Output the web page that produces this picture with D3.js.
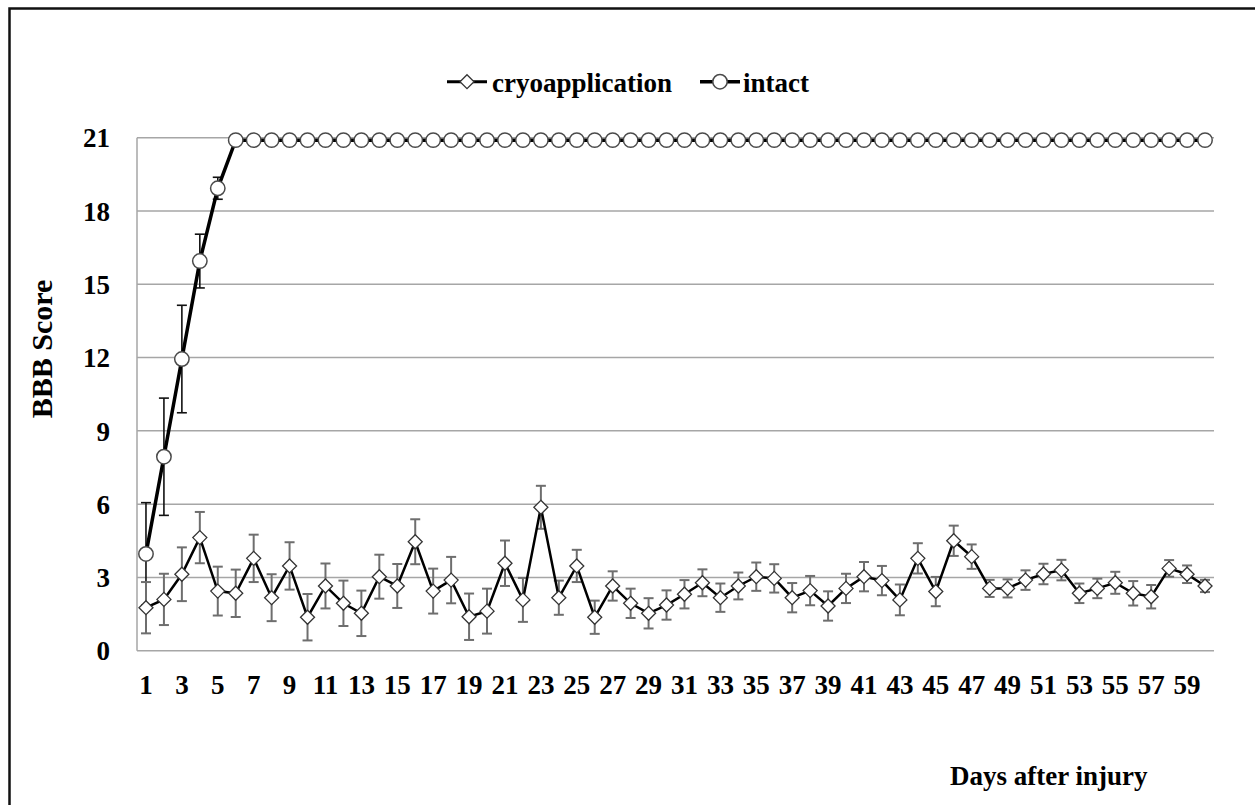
<!DOCTYPE html>
<html>
<head>
<meta charset="utf-8">
<script src="https://cdn.jsdelivr.net/npm/d3@7"></script>
<style>
  html, body { margin: 0; padding: 0; background: #fff; }
  svg { display: block; }
  text { font-family: "Liberation Serif", "Times New Roman", serif; font-weight: bold; fill: #000; }
</style>
</head>
<body>
<svg id="chart" width="1255" height="805"></svg>
<script>
// ---- data ----
const days = [1,2,3,4,5,6,7,8,9,10,11,12,13,14,15,16,17,18,19,20,21,22,23,24,25,26,27,28,29,30,
              31,32,33,34,35,36,37,38,39,40,41,42,43,44,45,46,47,48,49,50,51,52,53,54,55,56,57,58,59,60];
const xTickLabels = [1,3,5,7,9,11,13,15,17,19,21,23,25,27,29,31,33,35,37,39,41,43,45,47,49,51,53,55,57,59];
const yTickLabels = [0,3,6,9,12,15,18,21];

const cryoMean = [1.76,2.10,3.13,4.63,2.44,2.35,3.78,2.17,3.47,1.37,
                  2.65,1.94,1.53,3.03,2.65,4.46,2.44,2.89,1.39,1.62,
                  3.58,2.08,5.87,2.17,3.47,1.37,2.65,1.94,1.53,1.87,
                  2.31,2.78,2.17,2.65,3.03,2.96,2.17,2.46,1.83,2.55,
                  3.03,2.87,2.08,3.78,2.42,4.50,3.85,2.55,2.55,2.89,
                  3.14,3.30,2.35,2.55,2.78,2.35,2.21,3.37,3.13,2.65];
const cryoSD = [1.05,1.05,1.10,1.05,1.00,0.97,0.97,0.96,0.97,0.95,
                0.92,0.93,0.93,0.90,0.90,0.92,0.92,0.95,0.95,0.92,
                0.93,0.90,0.88,0.70,0.66,0.68,0.60,0.60,0.62,0.60,
                0.58,0.55,0.58,0.55,0.58,0.58,0.60,0.60,0.60,0.60,
                0.60,0.60,0.63,0.62,0.60,0.62,0.50,0.35,0.37,0.40,
                0.42,0.42,0.40,0.40,0.45,0.50,0.48,0.34,0.36,0.25];
const intactMean = [3.96,7.94,11.94,15.95,18.93,20.9,20.9,20.9,20.9,20.9,
                    20.9,20.9,20.9,20.9,20.9,20.9,20.9,20.9,20.9,20.9,
                    20.9,20.9,20.9,20.9,20.9,20.9,20.9,20.9,20.9,20.9,
                    20.9,20.9,20.9,20.9,20.9,20.9,20.9,20.9,20.9,20.9,
                    20.9,20.9,20.9,20.9,20.9,20.9,20.9,20.9,20.9,20.9,
                    20.9,20.9,20.9,20.9,20.9,20.9,20.9,20.9,20.9,20.9];
const intactSD = [2.10,2.40,2.20,1.10,0.45,0,0,0,0,0,
                  0,0,0,0,0,0,0,0,0,0,
                  0,0,0,0,0,0,0,0,0,0,
                  0,0,0,0,0,0,0,0,0,0,
                  0,0,0,0,0,0,0,0,0,0,
                  0,0,0,0,0,0,0,0,0,0];
const seriesNames = ["cryoapplication", "intact"];

// ---- layout ----
const svg = d3.select("#chart");
const L = 137, R = 1214, T = 137.7, B = 650.7;

const x = d3.scaleBand().domain(days).range([L, R]);
const cx = d => x(d) + x.bandwidth() / 2;
const y = d3.scaleLinear().domain([0, 21]).range([B, T]);

// outer border
svg.append("rect").attr("x", 9.5).attr("y", 8.5).attr("width", 1300).attr("height", 900)
  .attr("fill", "none").attr("stroke", "#111").attr("stroke-width", 2.5);

// gridlines
svg.append("g").selectAll("line").data(yTickLabels.filter(v => v > 0)).join("line")
  .attr("x1", L).attr("x2", R).attr("y1", d => y(d)).attr("y2", d => y(d))
  .attr("stroke", "#a6a6a6").attr("stroke-width", 1.5);

// axis lines
svg.append("line").attr("x1", L).attr("x2", L).attr("y1", T).attr("y2", B)
  .attr("stroke", "#a6a6a6").attr("stroke-width", 1.5);
svg.append("line").attr("x1", L).attr("x2", R).attr("y1", B).attr("y2", B)
  .attr("stroke", "#a6a6a6").attr("stroke-width", 1.5);

// y axis
const yAxis = svg.append("g").attr("transform", `translate(${L},0)`)
  .call(d3.axisLeft(y).tickValues(yTickLabels).tickSize(0).tickPadding(27));
yAxis.select(".domain").remove();
yAxis.selectAll("text").style("font-size", "27px").attr("dy", "0.34em")
  .style("font-family", "'Liberation Serif', serif").style("font-weight", "bold");

// x axis
const xAxis = svg.append("g").attr("transform", `translate(0,${B})`)
  .call(d3.axisBottom(x).tickValues(xTickLabels).tickSize(0));
xAxis.select(".domain").remove();
xAxis.selectAll("text").style("font-size", "27px").attr("y", 43).attr("dy", 0)
  .style("font-family", "'Liberation Serif', serif").style("font-weight", "bold");

// axis titles
svg.append("text").attr("transform", "translate(52,349) rotate(-90)")
  .attr("text-anchor", "middle").style("font-size", "30px").text("BBB Score");
svg.append("text").attr("x", 950).attr("y", 785).style("font-size", "27px").text("Days after injury");

// error bars
function errorBars(mean, sd, color, width) {
  const g = svg.append("g").attr("stroke", color).attr("stroke-width", width).attr("fill", "none");
  days.forEach((d, i) => {
    if (sd[i] <= 0) return;
    const xx = cx(d), y1 = y(mean[i] + sd[i]), y0 = y(mean[i] - sd[i]);
    g.append("line").attr("x1", xx).attr("x2", xx).attr("y1", y1).attr("y2", y0);
    g.append("line").attr("x1", xx - 5).attr("x2", xx + 5).attr("y1", y1).attr("y2", y1);
    g.append("line").attr("x1", xx - 5).attr("x2", xx + 5).attr("y1", y0).attr("y2", y0);
  });
}
errorBars(intactMean, intactSD, "#111", 1.6);
errorBars(cryoMean, cryoSD, "#6e6e6e", 2);

// lines
const line = d3.line().x((d, i) => cx(days[i])).y(d => y(d));
svg.append("path").datum(intactMean).attr("d", line)
  .attr("fill", "none").attr("stroke", "#000").attr("stroke-width", 3.5);
svg.append("path").datum(cryoMean).attr("d", line)
  .attr("fill", "none").attr("stroke", "#000").attr("stroke-width", 2.5);

// markers
const diamond = s => `M0,${-s}L${s},0L0,${s}L${-s},0Z`;
svg.append("g").selectAll("circle").data(intactMean).join("circle")
  .attr("cx", (d, i) => cx(days[i])).attr("cy", d => y(d)).attr("r", 7.2)
  .attr("fill", "#fff").attr("stroke", "#4a4a4a").attr("stroke-width", 1.5);
svg.append("g").selectAll("path").data(cryoMean).join("path")
  .attr("transform", (d, i) => `translate(${cx(days[i])},${y(d)})`)
  .attr("d", diamond(7))
  .attr("fill", "#fff").attr("stroke", "#333").attr("stroke-width", 1.3);

// legend
const lg = svg.append("g");
const ly = 81.7;
lg.append("line").attr("x1", 447).attr("x2", 487).attr("y1", ly).attr("y2", ly)
  .attr("stroke", "#000").attr("stroke-width", 3);
lg.append("path").attr("transform", `translate(467,${ly})`).attr("d", diamond(7))
  .attr("fill", "#fff").attr("stroke", "#333").attr("stroke-width", 1.3);
lg.append("text").attr("x", 492).attr("y", 92).style("font-size", "27px").text(seriesNames[0]);
lg.append("line").attr("x1", 700).attr("x2", 740).attr("y1", ly).attr("y2", ly)
  .attr("stroke", "#000").attr("stroke-width", 3.5);
lg.append("circle").attr("cx", 720).attr("cy", ly).attr("r", 7.2)
  .attr("fill", "#fff").attr("stroke", "#4a4a4a").attr("stroke-width", 1.5);
lg.append("text").attr("x", 743).attr("y", 92).style("font-size", "27px").text(seriesNames[1]);
</script>
</body>
</html>
